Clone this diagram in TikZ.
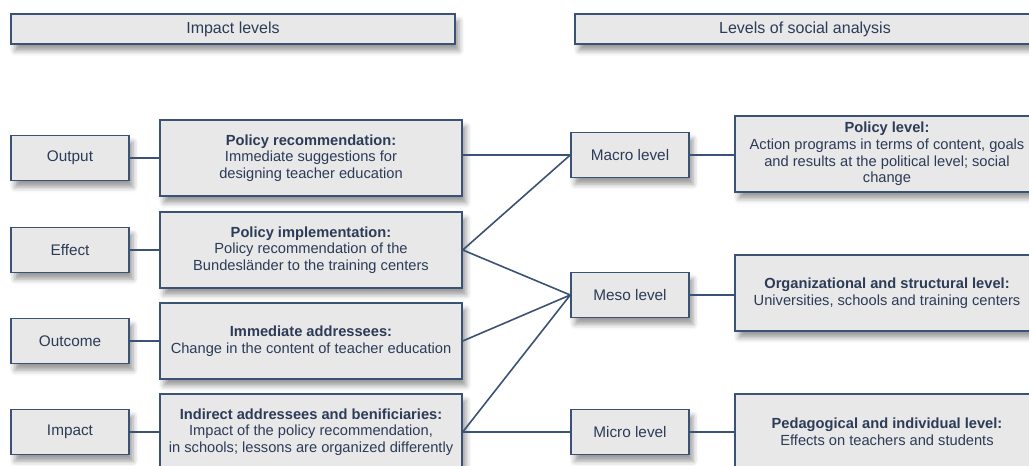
\documentclass[tikz,border=0pt]{standalone}
\usepackage{fontspec}
\setmainfont{Liberation Sans}
\usetikzlibrary{positioning,shadows.blur}

\definecolor{boxline}{HTML}{3A5274}
\definecolor{boxfill}{HTML}{E8E8E8}
\definecolor{boxtext}{HTML}{2C3B57}

\begin{document}
\begin{tikzpicture}[x=0.75pt, y=-0.75pt,
    every node/.style={font=\fontsize{11}{12.4}\selectfont, text=boxtext},
    box/.style={draw=boxline, fill=boxfill, line width=1.1pt, align=center, inner sep=2pt,
        blur shadow={shadow xshift=3pt, shadow yshift=-5pt, shadow blur radius=4pt, shadow opacity=40}},
    head/.style={box, minimum height=22.5pt, font=\fontsize{12}{14}\selectfont},
    small/.style={box, minimum width=88.5pt, minimum height=33.75pt, font=\fontsize{11.5}{13}\selectfont},
    wide/.style={box, minimum width=226.5pt, minimum height=57pt},
    info/.style={box, minimum width=228pt, minimum height=57pt},
    link/.style={draw=boxline, line width=1.2pt}]
                        \useasboundingbox (0, 0) rectangle (1029, 466);
                        % column headings
                        \node[head, minimum width=333pt] (imphead) at (233, 29) {Impact levels};
                        \node[head, minimum width=345pt] (anahead) at (805, 29) {Levels of social analysis};
                        % impact levels
                        \node[small] (output) at (70, 158) {Output};
                        \node[small] (effect) at (70, 250) {Effect};
                        \node[small] (outcome) at (70, 341) {Outcome};
                        \node[small] (impact) at (70, 432) {Impact};
                        \node[wide] (recom) at (311, 158) {\textbf{Policy recommendation:}\\
                            Immediate suggestions for\\designing teacher education};
                        \node[wide] (implem) at (311, 250) {\textbf{Policy implementation:}\\
                            Policy recommendation of the\\Bundesländer to the training centers};
                        \node[wide] (immed) at (311, 341) {\textbf{Immediate addressees:}\\
                            Change in the content of teacher education};
                        \node[wide] (indir) at (311, 432) {\textbf{Indirect addressees and benificiaries:}\\
                            Impact of the policy recommendation,\\in schools; lessons are organized differently};
                        % levels of social analysis
                        \node[small] (macro) at (630, 155) {Macro level};
                        \node[small] (meso) at (630, 295) {Meso level};
                        \node[small] (micro) at (630, 432) {Micro level};
                        \node[info] (policy) at (887, 154) {\textbf{Policy level:}\\
                            Action programs in terms of content, goals\\and results at the political level; social\\change};
                        \node[info] (organ) at (887, 293) {\textbf{Organizational and structural level:}\\
                            Universities, schools and training centers};
                        \node[info] (pedag) at (887, 432) {\textbf{Pedagogical and individual level:}\\
                            Effects on teachers and students};
                        % connections
                        \draw[link]
                        (output.east) -- (recom.west)
                        (effect.east) -- (implem.west)
                        (outcome.east) -- (immed.west)
                        (impact.east) -- (indir.west)
                        (recom.east |- macro.west) -- (macro.west)
                        (implem.east) -- (macro.west)
                        (implem.east) -- (meso.west)
                        (immed.east) -- (meso.west)
                        (indir.east) -- (meso.west)
                        (indir.east) -- (micro.west)
                        (macro.east) -- (macro.east -| policy.west)
                        (meso.east) -- (meso.east -| organ.west)
                        (micro.east) -- (pedag.west);
                    \end{tikzpicture}
\end{document}
